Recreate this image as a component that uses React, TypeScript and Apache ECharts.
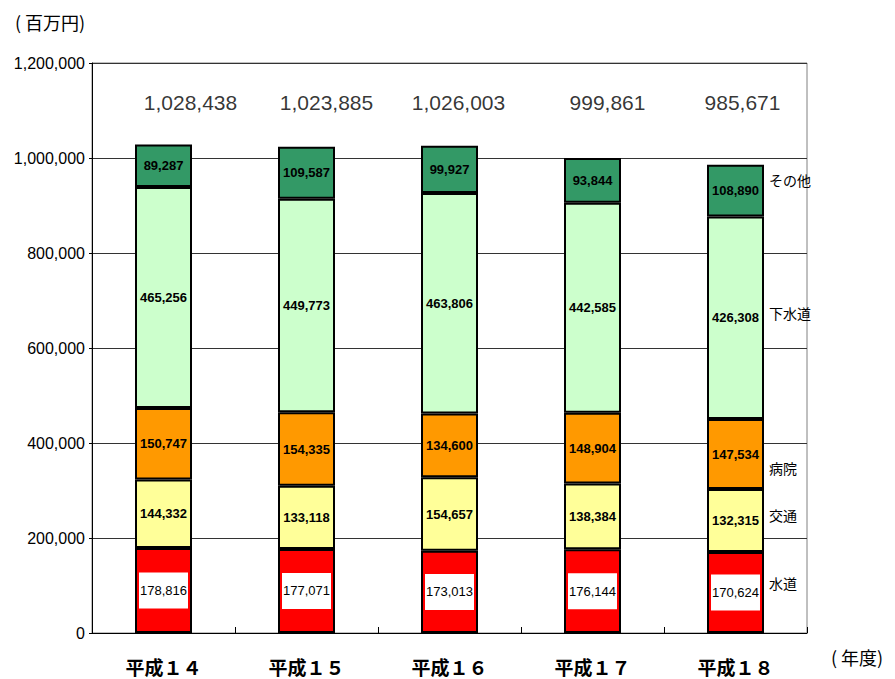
import React, { useEffect, useRef } from "react";
import * as echarts from "echarts";

const categories = ["平成１４", "平成１５", "平成１６", "平成１７", "平成１８"];
const seriesNames = ["水道", "交通", "病院", "下水道", "その他"];
const suido = [178816, 177071, 173013, 176144, 170624];
const kotsu = [144332, 133118, 154657, 138384, 132315];
const byoin = [150747, 154335, 134600, 148904, 147534];
const gesuido = [465256, 449773, 463806, 442585, 426308];
const sonota = [89287, 109587, 99927, 93844, 108890];
const totals = [1028438, 1023885, 1026003, 999861, 985671];
const yTicks = [0, 200000, 400000, 600000, 800000, 1000000, 1200000];

const colors = ["#FF0000", "#FFFF99", "#FF9900", "#CCFFCC", "#339966"];
const totalOffsets = [27, 20, 9, 15, 7];
const sideLabelOffsets = [-9, -6, 14, -5, -11];
const TOTAL_LEVEL = 1116000;

const NUM_FONT = "'Liberation Sans', Arial, sans-serif";
const JP_FONT = "'Noto Sans CJK JP', sans-serif";

const fmt = (v: number) => v.toLocaleString("en-US");

export default function App() {
  const ref = useRef<HTMLDivElement>(null);
  useEffect(() => {
    if (!ref.current) return;
    const chart = echarts.init(ref.current, null, { renderer: "svg" });
    const data = [suido, kotsu, byoin, gesuido, sonota];
    const series: any[] = data.map((arr, i) => ({
      name: seriesNames[i],
      type: "bar",
      stack: "total",
      barWidth: 57,
      data: arr,
      itemStyle: { color: colors[i], borderColor: "#000", borderWidth: 2 },
      label: {
        show: true,
        position: "inside",
        formatter: (p: any) => fmt(p.value),
        fontFamily: NUM_FONT,
        fontSize: 13,
        fontWeight: i === 0 ? "normal" : "bold",
        color: "#000",
        ...(i === 0
          ? { backgroundColor: "#fff", padding: [12, 1, 11, 1] }
          : {}),
      },
    }));
    series.push({
      type: "scatter",
      symbolSize: 0,
      silent: true,
      data: totals.map((t, i) => ({
        value: [i, TOTAL_LEVEL],
        label: { offset: [totalOffsets[i], 0] },
      })),
      label: {
        show: true,
        position: "inside",
        formatter: (p: any) => fmt(totals[p.dataIndex]),
        fontFamily: NUM_FONT,
        fontSize: 21,
        color: "#000",
      },
    });

    chart.setOption({
      animation: false,
      grid: {
        left: 92,
        top: 63,
        right: 88,
        bottom: 46,
        show: true,
        borderColor: "#808080",
        borderWidth: 1,
        backgroundColor: "#fff",
      },
      xAxis: {
        type: "category",
        data: categories,
        axisLine: { lineStyle: { color: "#000", width: 1 } },
        axisTick: { show: true, inside: true, length: 6, lineStyle: { color: "#000" } },
        axisLabel: {
          margin: 24,
          fontFamily: JP_FONT,
          fontWeight: "bold",
          fontSize: 19,
          color: "#000",
        },
      },
      yAxis: {
        type: "value",
        min: 0,
        max: 1200000,
        interval: 200000,
        axisLine: { show: true, lineStyle: { color: "#000", width: 1 } },
        axisTick: { show: true, length: 3, lineStyle: { color: "#000" } },
        splitLine: { show: true, lineStyle: { color: "#333", width: 1 } },
        axisLabel: {
          margin: 7,
          fontFamily: NUM_FONT,
          fontSize: 16,
          color: "#000",
          formatter: (v: number) => (yTicks.includes(v) ? fmt(v) : ""),
        },
      },
      series,
    });

    const last = categories.length - 1;
    let cum = 0;
    const graphics: any[] = [];
    data.forEach((arr, i) => {
      const center = cum + arr[last] / 2;
      cum += arr[last];
      const pt = chart.convertToPixel({ gridIndex: 0 }, [last, center]) as number[];
      graphics.push({
        type: "text",
        x: pt[0] + 57 / 2 + 5,
        y: pt[1] + sideLabelOffsets[i],
        style: {
          text: seriesNames[i],
          fontFamily: JP_FONT,
          fontSize: 14,
          fill: "#000",
          verticalAlign: "middle",
          align: "left",
        },
      });
    });
    graphics.push({
      type: "text",
      x: 15,
      y: 22,
      style: { text: "( 百万円)", fontFamily: JP_FONT, fontSize: 18, fill: "#000", verticalAlign: "middle" },
    });
    graphics.push({
      type: "text",
      x: 831,
      y: 657,
      style: { text: "( 年度)", fontFamily: JP_FONT, fontSize: 18, fill: "#000", verticalAlign: "middle" },
    });
    chart.setOption({ graphic: graphics });

    return () => chart.dispose();
  }, []);
  return (
    <div
      ref={ref}
      style={{ position: "absolute", left: 0, top: 0, width: 895, height: 679 }}
    />
  );
}
